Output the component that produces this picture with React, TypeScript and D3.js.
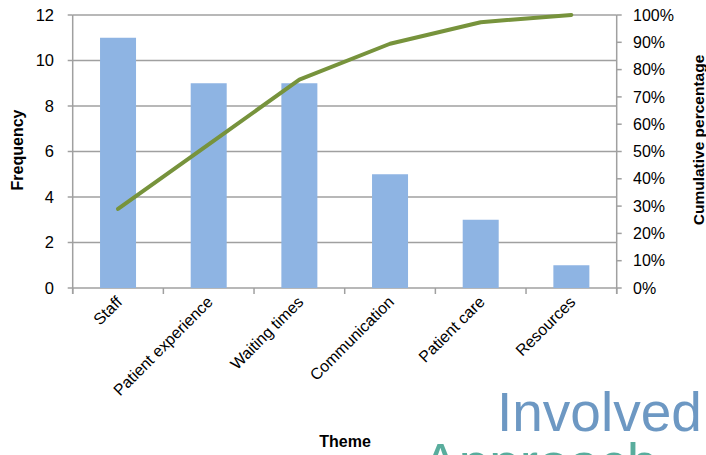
import React from "react";
import * as d3 from "d3";

const categories = ["Staff", "Patient experience", "Waiting times", "Communication", "Patient care", "Resources"];
const frequency = [11, 9, 9, 5, 3, 1];
const leftTicks = [0, 2, 4, 6, 8, 10, 12];
const rightTicks = [0, 10, 20, 30, 40, 50, 60, 70, 80, 90, 100];

export default function App() {
  const W = 706, H = 455;
  const left = 72.7, right = 616.7, top = 15, bottom = 288;
  const total = d3.sum(frequency);
  let acc = 0;
  const cumulative = frequency.map((f) => { acc += f; return (acc / total) * 100; });

  const xb = d3.scaleBand<string>().domain(categories).range([left, right]);
  const y = d3.scaleLinear().domain([0, 12]).range([bottom, top]);
  const y2 = d3.scaleLinear().domain([0, 100]).range([bottom, top]);
  const line = d3.line<number>()
    .x((_, i) => xb(categories[i])! + xb.bandwidth() / 2)
    .y((d) => y2(d));

  const font = "'Liberation Sans', Arial, sans-serif";
  const axisColor = "#a0a0a0";

  return (
    <svg width={W} height={H} style={{ position: "absolute", left: 0, top: 0, background: "#fff" }} fontFamily={font}>
      {/* watermark */}
      <text x={497} y={431} fontSize={55} fill="#5487b9" opacity={0.85}>Involved</text>
      <text x={422} y={482} fontSize={55} fill="#3d9f8c" opacity={0.85}>Approach</text>

      {/* gridlines */}
      {leftTicks.map((t) => (
        <line key={"g" + t} x1={left} x2={right} y1={y(t)} y2={y(t)} stroke={axisColor} strokeWidth={1.5} />
      ))}
      {/* bars */}
      {categories.map((c, i) => (
        <rect key={c} x={xb(c)! + xb.bandwidth() / 2 - 18} width={36} y={y(frequency[i])} height={bottom - y(frequency[i])} fill="#8eb4e3" />
      ))}
      {/* left axis */}
      <line x1={left} x2={left} y1={top} y2={bottom + 6} stroke={axisColor} strokeWidth={1.5} />
      {leftTicks.map((t) => (
        <g key={"l" + t}>
          <line x1={left - 5} x2={left} y1={y(t)} y2={y(t)} stroke={axisColor} strokeWidth={1.5} />
          <text x={54} y={y(t)} dy="0.35em" textAnchor="end" fontSize={16.5} fill="#000">{t}</text>
        </g>
      ))}
      {/* right axis */}
      <line x1={right} x2={right} y1={top} y2={bottom + 6} stroke={axisColor} strokeWidth={1.5} />
      {rightTicks.map((t) => (
        <g key={"r" + t}>
          <line x1={right} x2={right + 5} y1={y2(t)} y2={y2(t)} stroke={axisColor} strokeWidth={1.5} />
          <text x={633} y={y2(t)} dy="0.35em" textAnchor="start" fontSize={16} fill="#000">{t}%</text>
        </g>
      ))}
      {/* bottom ticks */}
      {categories.concat(["end"]).map((c, i) => {
        const xx = left + i * xb.bandwidth();
        return <line key={"b" + i} x1={xx} x2={xx} y1={bottom} y2={bottom + 6} stroke={axisColor} strokeWidth={1.5} />;
      })}
      {/* category labels */}
      {categories.map((c) => {
        const cx = xb(c)! + xb.bandwidth() / 2 + 5;
        const cy = 303;
        return (
          <text key={"c" + c} x={cx} y={cy} textAnchor="end" fontSize={16} fill="#000" transform={`rotate(-45 ${cx} ${cy})`}>{c}</text>
        );
      })}
      {/* cumulative line */}
      <path d={line(cumulative)!} fill="none" stroke="#77933c" strokeWidth={4} strokeLinecap="round" strokeLinejoin="round" />

      {/* axis titles */}
      <text x={0} y={0} transform={`translate(23 ${150}) rotate(-90)`} textAnchor="middle" fontSize={16} fontWeight="bold" fill="#000">Frequency</text>
      <text x={0} y={0} transform={`translate(704 ${140}) rotate(-90)`} textAnchor="middle" fontSize={15.5} fontWeight="bold" fill="#000">Cumulative percentage</text>
      <text x={345} y={447} textAnchor="middle" fontSize={16} fontWeight="bold" fill="#000">Theme</text>
    </svg>
  );
}
